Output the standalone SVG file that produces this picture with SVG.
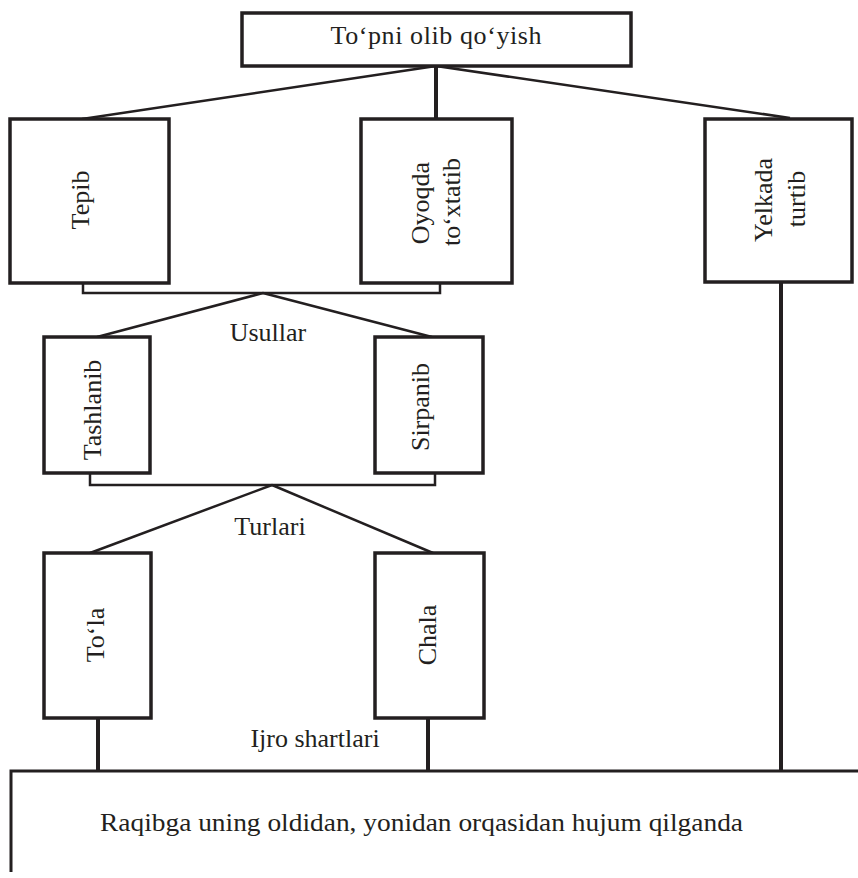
<svg xmlns="http://www.w3.org/2000/svg" width="858" height="878" viewBox="0 0 858 878">
<style>
.box{fill:#fff;stroke:#231f20;stroke-width:3.5}
.ln{fill:none;stroke:#231f20;stroke-width:2.5;stroke-linecap:butt}
.stem{fill:none;stroke:#231f20;stroke-width:4}
text{font-family:"Liberation Serif","Times New Roman",serif;font-size:26px;fill:#231f20}
.c{text-anchor:middle;dominant-baseline:central}
</style>
<rect width="858" height="878" fill="#fff"/>
<g id="connectors">
<line class="ln" x1="436" y1="66" x2="82" y2="119"/>
<line class="ln" x1="436" y1="66" x2="790" y2="118"/>
<line class="stem" x1="436" y1="66" x2="436" y2="119"/>
<polyline class="ln" points="83,283 83,293 440,293 440,283"/>
<line class="ln" x1="263" y1="293" x2="97" y2="337"/>
<line class="ln" x1="263" y1="293" x2="432" y2="337"/>
<polyline class="ln" points="90,473 90,485 435,485 435,473"/>
<line class="ln" x1="272" y1="485" x2="90" y2="553"/>
<line class="ln" x1="272" y1="485" x2="433" y2="553"/>
<line class="stem" x1="98" y1="718" x2="98" y2="771"/>
<line class="stem" x1="428" y1="718" x2="428" y2="771"/>
<line class="stem" x1="781" y1="282" x2="781" y2="771"/>
</g>
<g id="labels">
<text x="268" y="341" text-anchor="middle">Usullar</text>
<text x="270" y="535" text-anchor="middle">Turlari</text>
<text x="315" y="747" text-anchor="middle">Ijro shartlari</text>
</g>
<g id="node-top">
<rect class="box" x="242" y="13" width="389" height="53"/>
<text x="436" y="44" text-anchor="middle" font-size="27" textLength="211">To‘pni olib qo‘yish</text>
</g>
<g id="node-tepib">
<rect class="box" x="10" y="119" width="159" height="164"/>
<text class="c" x="80" y="200" transform="rotate(-90 80 200)">Tepib</text>
</g>
<g id="node-oyoqda">
<rect class="box" x="361" y="119" width="151" height="164"/>
<text class="c" x="420" y="203" transform="rotate(-90 420 203)">Oyoqda</text>
<text class="c" x="451" y="202" transform="rotate(-90 451 202)">to‘xtatib</text>
</g>
<g id="node-yelkada">
<rect class="box" x="705" y="119" width="147" height="163"/>
<text class="c" x="763" y="200" transform="rotate(-90 763 200)">Yelkada</text>
<text class="c" x="796" y="199" transform="rotate(-90 796 199)">turtib</text>
</g>
<g id="node-tashlanib">
<rect class="box" x="44" y="337" width="106" height="136"/>
<text class="c" x="92" y="410" transform="rotate(-90 92 410)">Tashlanib</text>
</g>
<g id="node-sirpanib">
<rect class="box" x="375" y="337" width="108" height="136"/>
<text class="c" x="420" y="407" transform="rotate(-90 420 407)">Sirpanib</text>
</g>
<g id="node-tola">
<rect class="box" x="44" y="553" width="107" height="165"/>
<text class="c" x="95" y="635" transform="rotate(-90 95 635)">To‘la</text>
</g>
<g id="node-chala">
<rect class="box" x="375" y="553" width="109" height="165"/>
<text class="c" x="427" y="635" transform="rotate(-90 427 635)">Chala</text>
</g>
<g id="node-bottom">
<polyline fill="none" stroke="#231f20" stroke-width="3" points="11,872 11,771 858,771"/>
<text x="100" y="831" textLength="643" lengthAdjust="spacingAndGlyphs">Raqibga uning oldidan, yonidan orqasidan hujum qilganda</text>
</g>
</svg>
